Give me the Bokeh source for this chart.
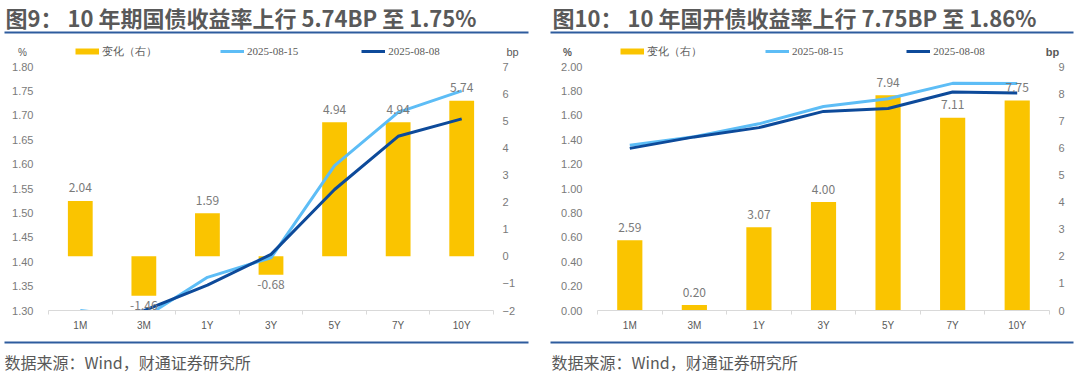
from bokeh.plotting import figure
from bokeh.models import (ColumnDataSource, LinearAxis, Range1d, FixedTicker, Label, LabelSet,
                          Legend, LegendItem, BoxAnnotation, NumeralTickFormatter, CustomJSTickFormatter)
from bokeh.core.properties import value
from bokeh.layouts import row, column
from bokeh.embed import file_html
from bokeh.resources import INLINE

categories = ["1M", "3M", "1Y", "3Y", "5Y", "7Y", "10Y"]

# 图9 国债
gz_change = [2.04, -1.46, 1.59, -0.68, 4.94, 4.94, 5.74]
gz_0815 = [1.300, 1.285, 1.368, 1.408, 1.597, 1.706, 1.750]
gz_0808 = [1.2796, 1.2996, 1.352, 1.415, 1.548, 1.657, 1.6926]
gz_left_ticks = [1.30, 1.35, 1.40, 1.45, 1.50, 1.55, 1.60, 1.65, 1.70, 1.75, 1.80]
gz_right_ticks = [-2, -1, 0, 1, 2, 3, 4, 5, 6, 7]

# 图10 国开债
gk_change = [2.59, 0.20, 3.07, 4.00, 7.94, 7.11, 7.75]
gk_0815 = [1.355, 1.425, 1.530, 1.672, 1.735, 1.862, 1.860]
gk_0808 = [1.329, 1.423, 1.499, 1.632, 1.656, 1.791, 1.7825]
gk_left_ticks = [0.0, 0.2, 0.4, 0.6, 0.8, 1.0, 1.2, 1.4, 1.6, 1.8, 2.0]
gk_right_ticks = [0, 1, 2, 3, 4, 5, 6, 7, 8, 9]

titles = ["图9：  10 年期国债收益率上行 5.74BP 至 1.75%",
          "图10：  10 年国开债收益率上行 7.75BP 至 1.86%"]
legend_labels = ["变化（右）", "2025-08-15", "2025-08-08"]
source_text = "数据来源：Wind，财通证券研究所"

GOLD = "#FAC400"
LIGHT = "#5DBDF6"
DARK = "#0D4A9A"
RULE = "#2E5C9E"
TXT = "#595959"
AX = "#7A7A7A"
CJK = "Noto Sans CJK SC"
SANS = "Liberation Sans"
W = 540
HEAD_H, CHART_H, FOOT_H = 59, 276, 40


def blank(height):
    f = figure(width=W, height=height, output_backend="svg", toolbar_location=None,
               x_range=Range1d(0, W), y_range=Range1d(height, 0),
               x_axis_location=None, y_axis_location=None, min_border=0)
    f.outline_line_color = None
    f.grid.visible = False
    return f


def make_header(title, title_x, rule_l, rule_r, legend_x, pct_x, bp_x, unit_bold):
    h = blank(HEAD_H)
    h.add_layout(Label(x=title_x, y=16, text=title, text_align="left", text_baseline="middle",
                       text_font=CJK, text_font_size="22px", text_font_style="bold",
                       text_color=TXT))
    h.add_layout(BoxAnnotation(left=rule_l, right=rule_r, top=31, bottom=33,
                               fill_color=RULE, fill_alpha=1, line_color=None))
    # legend proxies (single point each: nothing is drawn in the frame)
    r_bar = h.line(x=[0], y=[0], line_color=GOLD, line_width=6)
    r15 = h.line(x=[0], y=[0], line_color=LIGHT, line_width=3)
    r08 = h.line(x=[0], y=[0], line_color=DARK, line_width=3)
    leg = Legend(items=[LegendItem(label=legend_labels[0], renderers=[r_bar]),
                        LegendItem(label=legend_labels[1], renderers=[r15]),
                        LegendItem(label=legend_labels[2], renderers=[r08])],
                 orientation="horizontal", location=(legend_x, 0.5),
                 glyph_width=24, glyph_height=14, label_height=14, label_standoff=3,
                 spacing=63, padding=0, margin=0, border_line_color=None,
                 background_fill_alpha=0, label_text_font="Liberation Serif",
                 label_text_font_size="11px", label_text_color=TXT)
    h.add_layout(leg)
    fs = "bold" if unit_bold else "normal"
    h.add_layout(Label(x=pct_x, y=51.5, text="%", text_align="center", text_baseline="middle",
                       text_font=SANS, text_font_size="10px", text_color=TXT, text_font_style=fs))
    h.add_layout(Label(x=bp_x, y=51.5, text="bp", text_align="center", text_baseline="middle",
                       text_font=SANS, text_font_size="11px", text_color=TXT, text_font_style=fs))
    return h


def make_footer(text_x, rule_l, rule_r):
    f = blank(FOOT_H)
    f.add_layout(BoxAnnotation(left=rule_l, right=rule_r, top=6, bottom=8,
                               fill_color=RULE, fill_alpha=1, line_color=None))
    f.add_layout(Label(x=text_x, y=26, text=source_text, text_align="left",
                       text_baseline="middle", text_font=CJK, text_font_size="16px",
                       text_color=TXT))
    return f


def make_chart(change, s15, s08, lticks, rticks, frame_left, frame_right):
    p = figure(width=W, height=CHART_H, output_backend="svg", toolbar_location=None,
               x_range=Range1d(0, len(categories)), y_range=Range1d(lticks[0], lticks[-1]),
               min_border_left=frame_left, min_border_right=W - frame_right,
               min_border_top=7, min_border_bottom=25)
    p.extra_y_ranges = {"bp": Range1d(rticks[0], rticks[-1])}
    p.outline_line_color = None
    p.xgrid.visible = False
    p.ygrid.visible = False

    xs = [i + 0.5 for i in range(len(categories))]
    src = ColumnDataSource(dict(
        x=xs, change=change, s15=s15, s08=s08,
        label=["%.2f" % v for v in change],
        off=[13 if v >= 0 else -10 for v in change],
    ))

    p.vbar(x="x", top="change", bottom=0, width=0.39, source=src, y_range_name="bp",
           fill_color=GOLD, line_color=None)
    p.line(x="x", y="s15", source=src, line_color=LIGHT, line_width=3, line_join="round")
    p.line(x="x", y="s08", source=src, line_color=DARK, line_width=3, line_join="round")

    p.add_layout(LabelSet(x="x", y="change", text="label", source=src, y_range_name="bp",
                          y_offset="off", text_align="center", text_baseline="middle",
                          text_font=value(CJK), text_font_size="12px", text_color=AX))

    ya = p.yaxis[0]
    ya.ticker = FixedTicker(ticks=lticks)
    ya.formatter = NumeralTickFormatter(format="0.00")
    ya.axis_line_color = None
    ya.major_tick_line_color = None
    ya.major_tick_out = 0
    ya.major_tick_in = 0
    ya.minor_tick_line_color = None
    ya.major_label_standoff = 15
    ya.major_label_text_font = SANS
    ya.major_label_text_font_size = "11px"
    ya.major_label_text_color = AX

    ra = LinearAxis(y_range_name="bp", ticker=FixedTicker(ticks=rticks))
    ra.axis_line_color = None
    ra.major_tick_line_color = None
    ra.major_tick_out = 0
    ra.major_tick_in = 0
    ra.minor_tick_line_color = None
    ra.major_label_standoff = 9
    ra.major_label_text_font = SANS
    ra.major_label_text_font_size = "11px"
    ra.major_label_text_color = AX
    p.add_layout(ra, "right")

    xa = p.xaxis[0]
    xa.ticker = FixedTicker(ticks=xs, minor_ticks=list(range(len(categories) + 1)))
    xa.formatter = CustomJSTickFormatter(args=dict(cats=categories),
                                         code="return cats[Math.floor(tick)]")
    xa.axis_line_color = "#D9D9D9"
    xa.major_tick_line_color = None
    xa.major_tick_out = 0
    xa.major_tick_in = 0
    xa.minor_tick_line_color = "#D9D9D9"
    xa.minor_tick_in = 0
    xa.minor_tick_out = 4
    xa.major_label_standoff = 5
    xa.major_label_text_font = SANS
    xa.major_label_text_font_size = "10px"
    xa.major_label_text_color = TXT
    return p


h1 = make_header(titles[0], 5, 4, 528, 75, 22, 512, False)
h2 = make_header(titles[1], 12, 10, 533, 80, 27, 512, True)
p1 = make_chart(gz_change, gz_0815, gz_0808, gz_left_ticks, gz_right_ticks, 48, 493)
p2 = make_chart(gk_change, gk_0815, gk_0808, gk_left_ticks, gk_right_ticks, 57, 509)
f1 = make_footer(4, 4, 528)
f2 = make_footer(11, 10, 533)

layout = column(row(h1, h2), row(p1, p2), row(f1, f2))
open("out.html", "w").write(file_html(layout, INLINE))
